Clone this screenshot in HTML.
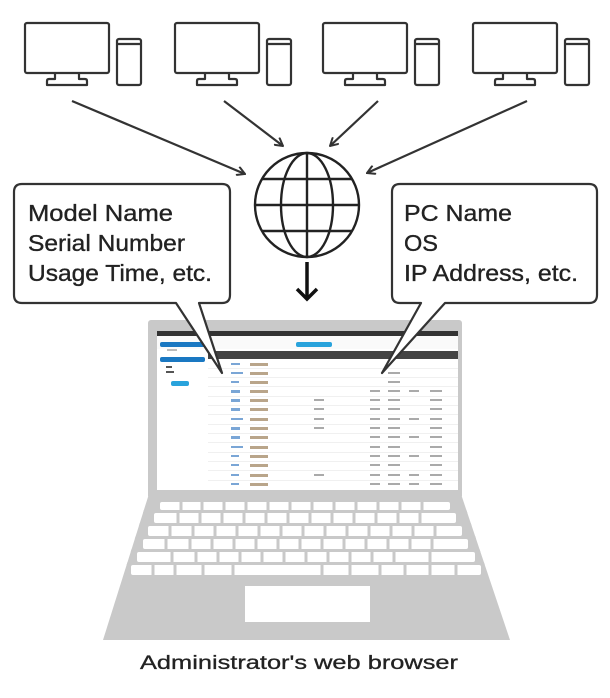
<!DOCTYPE html>
<html><head><meta charset="utf-8"><style>
html,body{margin:0;padding:0;background:#fff;}
svg{display:block;}
text{font-family:"Liberation Sans",Arial,sans-serif;}
</style></head><body>
<svg width="610" height="698" viewBox="0 0 610 698" xmlns="http://www.w3.org/2000/svg">
<defs>
<g id="pc" fill="none" stroke="#333" stroke-width="2.2" stroke-linejoin="round">
  <rect x="0" y="0" width="84" height="50" rx="2"/>
  <path d="M30 50 L30 56 L24 56 Q22 56 22 58 L22 62 L62 62 L62 58 Q62 56 60 56 L54 56 L54 50"/>
  <rect x="92" y="16" width="24" height="46" rx="2"/>
  <line x1="93" y1="21" x2="115" y2="21"/>
</g>
<marker id="ah" markerWidth="10" markerHeight="10" refX="9" refY="5" orient="auto" markerUnits="userSpaceOnUse">
  <path d="M1 0.5 L9 5 L1 9.5" fill="none" stroke="#333" stroke-width="2"/>
</marker>
<clipPath id="base"><path d="M148 497 L462 497 L510 640 L103 640 Z"/></clipPath>
</defs>

<use href="#pc" x="25" y="23"/>
<use href="#pc" x="175" y="23"/>
<use href="#pc" x="323" y="23"/>
<use href="#pc" x="473" y="23"/>

<g stroke="#333" stroke-width="2.2" fill="none" marker-end="url(#ah)">
  <line x1="72" y1="101" x2="245" y2="174"/>
  <line x1="224" y1="101" x2="283" y2="146"/>
  <line x1="378" y1="101" x2="330" y2="146"/>
  <line x1="527" y1="101" x2="367" y2="173"/>
</g>

<!-- globe -->
<g stroke="#222" stroke-width="2.4" fill="none">
  <circle cx="307" cy="205" r="52"/>
  <ellipse cx="307" cy="205" rx="26" ry="52"/>
  <line x1="307" y1="153" x2="307" y2="257"/>
  <line x1="255" y1="205" x2="359" y2="205"/>
  <line x1="262" y1="179" x2="352" y2="179"/>
  <line x1="262" y1="231" x2="352" y2="231"/>
</g>
<g stroke="#111" stroke-width="3.5" fill="none">
  <line x1="307" y1="262" x2="307" y2="298"/>
  <path d="M297 289 L307 299 L317 289"/>
</g>

<!-- laptop -->
<path d="M148 497 L462 497 L510 640 L103 640 Z" fill="#c9c9c9"/>
<rect x="148" y="320" width="314" height="179" rx="3" fill="#c9c9c9"/>
<rect x="157" y="331" width="301" height="159" fill="#fff"/>
<rect x="157" y="331" width="301" height="5" fill="#333"/>
<rect x="157" y="336" width="301" height="13" fill="#fafafa"/>
<rect x="160" y="342" width="45" height="5" rx="2" fill="#1a78c2"/>
<rect x="160" y="357" width="45" height="5" rx="2" fill="#1a78c2"/>
<rect x="171" y="381" width="18" height="5" rx="2" fill="#29a3dc"/>
<rect x="296" y="342" width="36" height="5" rx="2" fill="#29a3dc"/>
<rect x="167" y="349" width="10" height="2" fill="#bbb"/>
<rect x="166" y="366" width="6" height="2" fill="#555"/>
<rect x="166" y="371" width="8" height="2" fill="#555"/>
<rect x="208" y="351" width="250" height="8" fill="#444"/>
<g>
  <g fill="#e5e5e5">
    <rect x="208" y="368" width="250" height="0.6"/><rect x="208" y="377" width="250" height="0.6"/>
    <rect x="208" y="386" width="250" height="0.6"/><rect x="208" y="396" width="250" height="0.6"/>
    <rect x="208" y="405" width="250" height="0.6"/><rect x="208" y="414" width="250" height="0.6"/>
    <rect x="208" y="424" width="250" height="0.6"/><rect x="208" y="433" width="250" height="0.6"/>
    <rect x="208" y="442" width="250" height="0.6"/><rect x="208" y="452" width="250" height="0.6"/>
    <rect x="208" y="461" width="250" height="0.6"/><rect x="208" y="470" width="250" height="0.6"/>
    <rect x="208" y="480" width="250" height="0.6"/>
  </g>
  <g fill="#7aa6d6">
    <rect x="231" y="363" width="9" height="2"/><rect x="231" y="372" width="12" height="2"/><rect x="231" y="381" width="8" height="2"/>
    <rect x="231" y="390" width="9" height="3"/><rect x="231" y="399" width="9" height="3"/><rect x="231" y="408" width="9" height="3"/>
    <rect x="231" y="418" width="12" height="2"/><rect x="231" y="427" width="9" height="3"/><rect x="231" y="436" width="9" height="3"/>
    <rect x="231" y="446" width="12" height="2"/><rect x="231" y="455" width="8" height="2"/><rect x="231" y="464" width="8" height="2"/>
    <rect x="231" y="474" width="8" height="2"/><rect x="231" y="483" width="8" height="2"/>
  </g>
  <g fill="#b9a58a">
    <rect x="250" y="363" width="18" height="3"/><rect x="250" y="372" width="18" height="3"/><rect x="250" y="381" width="18" height="3"/>
    <rect x="250" y="390" width="18" height="3"/><rect x="250" y="399" width="18" height="3"/><rect x="250" y="408" width="18" height="3"/>
    <rect x="250" y="418" width="18" height="3"/><rect x="250" y="427" width="18" height="3"/><rect x="250" y="436" width="18" height="3"/>
    <rect x="250" y="446" width="18" height="3"/><rect x="250" y="455" width="18" height="3"/><rect x="250" y="464" width="18" height="3"/>
    <rect x="250" y="474" width="18" height="3"/><rect x="250" y="483" width="18" height="3"/>
  </g>
  <g fill="#aaa">
    <rect x="370" y="390" width="10" height="2"/><rect x="370" y="399" width="10" height="2"/><rect x="370" y="408" width="10" height="2"/>
    <rect x="370" y="418" width="10" height="2"/><rect x="370" y="427" width="10" height="2"/><rect x="370" y="436" width="10" height="2"/>
    <rect x="370" y="446" width="10" height="2"/><rect x="370" y="455" width="10" height="2"/><rect x="370" y="464" width="10" height="2"/>
    <rect x="370" y="474" width="10" height="2"/><rect x="370" y="483" width="10" height="2"/>
    <rect x="388" y="372" width="12" height="2"/><rect x="388" y="381" width="12" height="2"/><rect x="388" y="390" width="12" height="2"/>
    <rect x="388" y="399" width="12" height="2"/><rect x="388" y="408" width="12" height="2"/><rect x="388" y="418" width="12" height="2"/>
    <rect x="388" y="427" width="12" height="2"/><rect x="388" y="436" width="12" height="2"/><rect x="388" y="446" width="12" height="2"/>
    <rect x="388" y="455" width="12" height="2"/><rect x="388" y="464" width="12" height="2"/><rect x="388" y="474" width="12" height="2"/>
    <rect x="388" y="483" width="12" height="2"/>
    <rect x="409" y="390" width="10" height="2"/><rect x="409" y="418" width="10" height="2"/><rect x="409" y="436" width="10" height="2"/>
    <rect x="409" y="455" width="10" height="2"/><rect x="409" y="474" width="10" height="2"/><rect x="409" y="483" width="10" height="2"/>
    <rect x="430" y="390" width="12" height="2"/><rect x="430" y="399" width="12" height="2"/><rect x="430" y="408" width="12" height="2"/>
    <rect x="430" y="418" width="12" height="2"/><rect x="430" y="427" width="12" height="2"/><rect x="430" y="436" width="12" height="2"/>
    <rect x="430" y="446" width="12" height="2"/><rect x="430" y="455" width="12" height="2"/><rect x="430" y="464" width="12" height="2"/>
    <rect x="430" y="474" width="12" height="2"/><rect x="430" y="483" width="12" height="2"/>
    <rect x="314" y="399" width="10" height="2"/><rect x="314" y="408" width="10" height="2"/><rect x="314" y="418" width="10" height="2"/>
    <rect x="314" y="427" width="10" height="2"/><rect x="314" y="474" width="10" height="2"/>
  </g>
</g>

<!-- keyboard -->
<g clip-path="url(#base)">
<g fill="#fff">
  <rect x="160" y="502" width="290" height="8" rx="2"/>
  <rect x="154" y="513" width="302" height="10" rx="2"/>
  <rect x="148" y="526" width="314" height="10" rx="2"/>
  <rect x="143" y="539" width="325" height="10" rx="2"/>
  <rect x="137" y="552" width="338" height="10" rx="2"/>
  <rect x="131" y="565" width="350" height="10" rx="2"/>
  <rect x="245" y="586" width="125" height="36"/>
</g>
<g fill="#c9c9c9">
  <rect x="0" y="510" width="610" height="3"/>
  <rect x="0" y="523" width="610" height="3"/>
  <rect x="0" y="536" width="610" height="3"/>
  <rect x="0" y="549" width="610" height="3"/>
  <rect x="0" y="562" width="610" height="3"/>
</g>
<g stroke="#c9c9c9" stroke-width="3">
  <path d="M181 502v8M202 502v8M224 502v8M246 502v8M268 502v8M290 502v8M312 502v8M334 502v8M356 502v8M378 502v8M400 502v8M422 502v8"/>
  <path d="M178 513v10M200 513v10M222 513v10M244 513v10M266 513v10M288 513v10M310 513v10M332 513v10M354 513v10M376 513v10M398 513v10M420 513v10"/>
  <path d="M170 526v10M193 526v10M215 526v10M237 526v10M259 526v10M281 526v10M303 526v10M325 526v10M347 526v10M369 526v10M391 526v10M413 526v10M435 526v10"/>
  <path d="M166 539v10M190 539v10M212 539v10M234 539v10M256 539v10M278 539v10M300 539v10M322 539v10M344 539v10M366 539v10M388 539v10M410 539v10M432 539v10"/>
  <path d="M172 552v10M196 552v10M218 552v10M240 552v10M262 552v10M284 552v10M306 552v10M328 552v10M350 552v10M372 552v10M394 552v10M430 552v10"/>
  <path d="M153 565v10M175 565v10M203 565v10M233 565v10M322 565v10M350 565v10M380 565v10M405 565v10M430 565v10M456 565v10"/>
</g>
</g>

<!-- callouts -->
<g fill="#fff" stroke="#333" stroke-width="2.2" stroke-linejoin="round">
  <path d="M22 184 H222 Q230 184 230 192 V295 Q230 303 222 303 H199 L222 373 L176 303 H22 Q14 303 14 295 V192 Q14 184 22 184 Z"/>
  <path d="M400 184 H589 Q597 184 597 192 V295 Q597 303 589 303 H445 L382 373 L421 303 H400 Q392 303 392 295 V192 Q392 184 400 184 Z"/>
</g>
<g font-size="23" fill="#222" stroke="#222" stroke-width="0.35" lengthAdjust="spacingAndGlyphs">
  <text x="28" y="221" textLength="145" lengthAdjust="spacingAndGlyphs">Model Name</text>
  <text x="28" y="251" textLength="157" lengthAdjust="spacingAndGlyphs">Serial Number</text>
  <text x="28" y="281" textLength="184" lengthAdjust="spacingAndGlyphs">Usage Time, etc.</text>
  <text x="404" y="221" textLength="108" lengthAdjust="spacingAndGlyphs">PC Name</text>
  <text x="404" y="251" textLength="34" lengthAdjust="spacingAndGlyphs">OS</text>
  <text x="404" y="281" textLength="174" lengthAdjust="spacingAndGlyphs">IP Address, etc.</text>
</g>
<text x="299" y="669" font-size="19" text-anchor="middle" fill="#222" stroke="#222" stroke-width="0.3" textLength="318" lengthAdjust="spacingAndGlyphs">Administrator's web browser</text>
</svg>
</body></html>
